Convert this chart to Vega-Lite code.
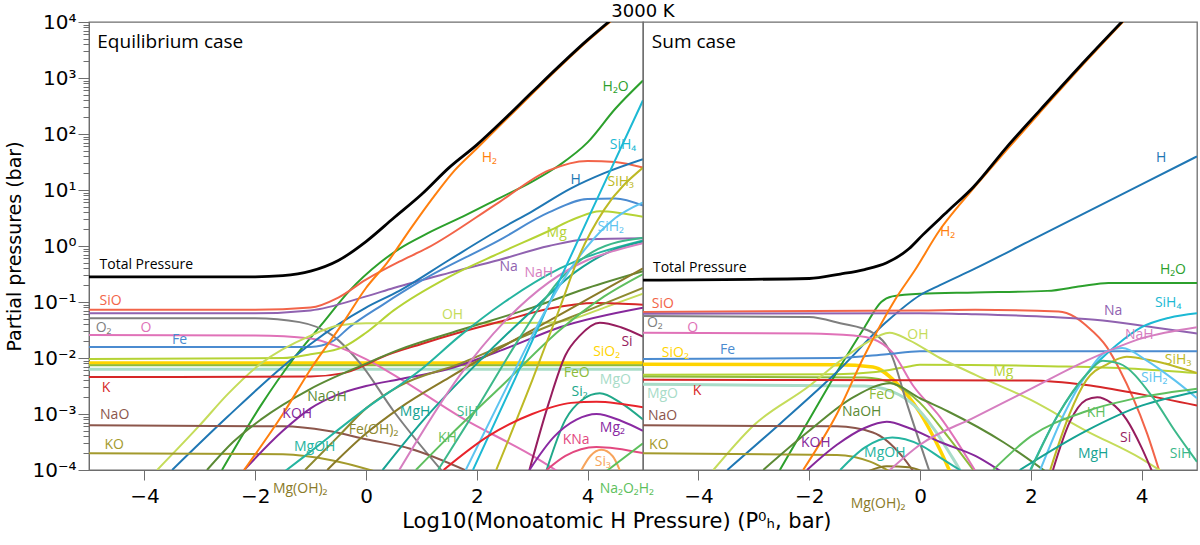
{
  "$schema": "https://vega.github.io/schema/vega-lite/v6.json",
  "padding": {"left": 5, "top": 3, "right": 3, "bottom": 0},
  "bounds": "flush",
  "config": {
    "view": {"stroke": "#6e6e6e", "strokeWidth": 1.3},
    "axis": {"domainColor": "#6e6e6e", "tickColor": "#6e6e6e", "labelColor": "#000", "titleColor": "#000", "grid": false}
  },
  "title": {"text": "Log10(Monoatomic H Pressure) (P⁰ₕ, bar)", "orient": "bottom", "anchor": "middle", "font": "DejaVu Sans", "fontSize": 21, "fontWeight": "normal", "color": "#000", "offset": 0, "dx": 15},
  "data": {"values": [
    {"p":"E","s":"SiO2","x":-5,"y":0.00813},{"p":"E","s":"SiO2","x":5,"y":0.00813},
    {"p":"E","s":"FeO","x":-5,"y":0.00741},{"p":"E","s":"FeO","x":5,"y":0.00741},
    {"p":"E","s":"MgO","x":-5,"y":0.00631},{"p":"E","s":"MgO","x":5,"y":0.00631},
    {"p":"E","s":"H2O","x":-2.6,"y":0.0001},{"p":"E","s":"H2O","x":-1.9,"y":0.00141},{"p":"E","s":"H2O","x":-1.3,"y":0.01},{"p":"E","s":"H2O","x":-0.8,"y":0.0398},{"p":"E","s":"H2O","x":-0.3,"y":0.158},{"p":"E","s":"H2O","x":0.25,"y":0.501},{"p":"E","s":"H2O","x":0.6,"y":0.891},{"p":"E","s":"H2O","x":1.1,"y":1.66},{"p":"E","s":"H2O","x":1.8,"y":3.55},{"p":"E","s":"H2O","x":2.4,"y":7.08},{"p":"E","s":"H2O","x":3,"y":14.1},{"p":"E","s":"H2O","x":3.5,"y":28.2},{"p":"E","s":"H2O","x":4,"y":70.8},{"p":"E","s":"H2O","x":4.5,"y":282},{"p":"E","s":"H2O","x":5,"y":900},
    {"p":"E","s":"SiO","x":-5,"y":0.0724},{"p":"E","s":"SiO","x":-2,"y":0.0724},{"p":"E","s":"SiO","x":-1,"y":0.0794},{"p":"E","s":"SiO","x":-0.5,"y":0.12},{"p":"E","s":"SiO","x":0,"y":0.251},{"p":"E","s":"SiO","x":0.6,"y":0.525},{"p":"E","s":"SiO","x":1.1,"y":0.912},{"p":"E","s":"SiO","x":2.4,"y":6.03},{"p":"E","s":"SiO","x":3.3,"y":22.4},{"p":"E","s":"SiO","x":4,"y":33.1},{"p":"E","s":"SiO","x":4.5,"y":31.6},{"p":"E","s":"SiO","x":5,"y":25.1},
    {"p":"E","s":"Na","x":-5,"y":0.0631},{"p":"E","s":"Na","x":-2,"y":0.0631},{"p":"E","s":"Na","x":-1,"y":0.0708},{"p":"E","s":"Na","x":0,"y":0.126},{"p":"E","s":"Na","x":0.5,"y":0.178},{"p":"E","s":"Na","x":1.5,"y":0.331},{"p":"E","s":"Na","x":2.4,"y":0.562},{"p":"E","s":"Na","x":3.3,"y":1.0},{"p":"E","s":"Na","x":4,"y":1.32},{"p":"E","s":"Na","x":5,"y":1.38},
    {"p":"E","s":"O2","x":-5,"y":0.0513},{"p":"E","s":"O2","x":-2,"y":0.0513},{"p":"E","s":"O2","x":-1.2,"y":0.0437},{"p":"E","s":"O2","x":-0.6,"y":0.0251},{"p":"E","s":"O2","x":-0.1,"y":0.00794},{"p":"E","s":"O2","x":0.5,"y":0.00112},{"p":"E","s":"O2","x":1.4,"y":0.000089},
    {"p":"E","s":"O","x":-5,"y":0.0257},{"p":"E","s":"O","x":-2,"y":0.0251},{"p":"E","s":"O","x":-1,"y":0.0224},{"p":"E","s":"O","x":-0.5,"y":0.0158},{"p":"E","s":"O","x":0,"y":0.00955},{"p":"E","s":"O","x":0.5,"y":0.00501},{"p":"E","s":"O","x":1.7,"y":0.000891},{"p":"E","s":"O","x":3.1,"y":0.000158},{"p":"E","s":"O","x":3.5,"y":0.000089},
    {"p":"E","s":"Fe","x":-5,"y":0.0158},{"p":"E","s":"Fe","x":-1,"y":0.0158},{"p":"E","s":"Fe","x":-0.6,"y":0.02},{"p":"E","s":"Fe","x":-0.3,"y":0.0355},{"p":"E","s":"Fe","x":0.3,"y":0.0891},{"p":"E","s":"Fe","x":1,"y":0.24},{"p":"E","s":"Fe","x":2.4,"y":1.26},{"p":"E","s":"Fe","x":3.3,"y":3.98},{"p":"E","s":"Fe","x":4,"y":6.92},{"p":"E","s":"Fe","x":4.5,"y":7.08},{"p":"E","s":"Fe","x":5,"y":5.25},
    {"p":"E","s":"H","x":-3.5,"y":0.0001},{"p":"E","s":"H","x":-2.5,"y":0.000891},{"p":"E","s":"H","x":-1.5,"y":0.00708},{"p":"E","s":"H","x":-1,"y":0.0178},{"p":"E","s":"H","x":-0.5,"y":0.0398},{"p":"E","s":"H","x":0,"y":0.0794},{"p":"E","s":"H","x":0.6,"y":0.158},{"p":"E","s":"H","x":1.5,"y":0.562},{"p":"E","s":"H","x":2.4,"y":1.95},{"p":"E","s":"H","x":3,"y":4.17},{"p":"E","s":"H","x":3.7,"y":10.7},{"p":"E","s":"H","x":4.3,"y":20},{"p":"E","s":"H","x":5,"y":35.5},
    {"p":"E","s":"Mg","x":-5,"y":0.00955},{"p":"E","s":"Mg","x":-1.5,"y":0.01},{"p":"E","s":"Mg","x":-1,"y":0.0117},{"p":"E","s":"Mg","x":-0.4,"y":0.0158},{"p":"E","s":"Mg","x":0,"y":0.0282},{"p":"E","s":"Mg","x":0.5,"y":0.0708},{"p":"E","s":"Mg","x":1.5,"y":0.282},{"p":"E","s":"Mg","x":2.4,"y":0.741},{"p":"E","s":"Mg","x":3.26,"y":1.78},{"p":"E","s":"Mg","x":3.8,"y":3.16},{"p":"E","s":"Mg","x":4.22,"y":4.17},{"p":"E","s":"Mg","x":5,"y":3.31},
    {"p":"E","s":"OH","x":-3.77,"y":0.0001},{"p":"E","s":"OH","x":-3,"y":0.000631},{"p":"E","s":"OH","x":-2.5,"y":0.00224},{"p":"E","s":"OH","x":-1.9,"y":0.00794},{"p":"E","s":"OH","x":-1,"y":0.0251},{"p":"E","s":"OH","x":-0.5,"y":0.038},{"p":"E","s":"OH","x":0,"y":0.0417},{"p":"E","s":"OH","x":2,"y":0.0417},{"p":"E","s":"OH","x":3.3,"y":0.0427},{"p":"E","s":"OH","x":3.8,"y":0.0525},{"p":"E","s":"OH","x":4.3,"y":0.0794},{"p":"E","s":"OH","x":5,"y":0.141},
    {"p":"E","s":"K","x":-5,"y":0.00457},{"p":"E","s":"K","x":-1,"y":0.00468},{"p":"E","s":"K","x":-0.4,"y":0.00537},{"p":"E","s":"K","x":0,"y":0.00759},{"p":"E","s":"K","x":0.25,"y":0.01},{"p":"E","s":"K","x":1,"y":0.0178},{"p":"E","s":"K","x":1.7,"y":0.0288},{"p":"E","s":"K","x":2.5,"y":0.0468},{"p":"E","s":"K","x":3.3,"y":0.0759},{"p":"E","s":"K","x":4.16,"y":0.0955},{"p":"E","s":"K","x":5,"y":0.0891},
    {"p":"E","s":"NaO","x":-5,"y":0.000631},{"p":"E","s":"NaO","x":-1.5,"y":0.000603},{"p":"E","s":"NaO","x":-0.7,"y":0.000501},{"p":"E","s":"NaO","x":0,"y":0.000355},{"p":"E","s":"NaO","x":0.8,"y":0.00024},{"p":"E","s":"NaO","x":1.9,"y":0.000089},
    {"p":"E","s":"KO","x":-5,"y":0.0002},{"p":"E","s":"KO","x":-1.5,"y":0.000191},{"p":"E","s":"KO","x":-0.6,"y":0.000148},{"p":"E","s":"KO","x":0.25,"y":0.000089},
    {"p":"E","s":"NaOH","x":-2.87,"y":0.0001},{"p":"E","s":"NaOH","x":-2.4,"y":0.000316},{"p":"E","s":"NaOH","x":-1.9,"y":0.000794},{"p":"E","s":"NaOH","x":-1,"y":0.00282},{"p":"E","s":"NaOH","x":0,"y":0.00794},{"p":"E","s":"NaOH","x":0.6,"y":0.0141},{"p":"E","s":"NaOH","x":1.7,"y":0.0316},{"p":"E","s":"NaOH","x":3,"y":0.0794},{"p":"E","s":"NaOH","x":4,"y":0.178},{"p":"E","s":"NaOH","x":5,"y":0.355},
    {"p":"E","s":"KOH","x":-2.2,"y":0.0001},{"p":"E","s":"KOH","x":-1.5,"y":0.000501},{"p":"E","s":"KOH","x":-1,"y":0.00126},{"p":"E","s":"KOH","x":-0.5,"y":0.00224},{"p":"E","s":"KOH","x":0,"y":0.00316},{"p":"E","s":"KOH","x":0.6,"y":0.00417},{"p":"E","s":"KOH","x":1.4,"y":0.00603},{"p":"E","s":"KOH","x":2.6,"y":0.0158},{"p":"E","s":"KOH","x":3.5,"y":0.0355},{"p":"E","s":"KOH","x":5,"y":0.0794},
    {"p":"E","s":"FeOH2","x":-1.1,"y":0.0001},{"p":"E","s":"FeOH2","x":-0.5,"y":0.000398},{"p":"E","s":"FeOH2","x":0,"y":0.00126},{"p":"E","s":"FeOH2","x":0.6,"y":0.00316},{"p":"E","s":"FeOH2","x":1.7,"y":0.00794},{"p":"E","s":"FeOH2","x":3,"y":0.0282},{"p":"E","s":"FeOH2","x":4,"y":0.0708},{"p":"E","s":"FeOH2","x":5,"y":0.178},
    {"p":"E","s":"MgOH","x":-1.5,"y":0.000089},{"p":"E","s":"MgOH","x":-1.13,"y":0.00017},{"p":"E","s":"MgOH","x":0,"y":0.00126},{"p":"E","s":"MgOH","x":1,"y":0.00631},{"p":"E","s":"MgOH","x":1.7,"y":0.0251},{"p":"E","s":"MgOH","x":2.5,"y":0.1},{"p":"E","s":"MgOH","x":3.5,"y":0.398},{"p":"E","s":"MgOH","x":5,"y":1.26},
    {"p":"E","s":"MgOH2","x":-0.7,"y":0.0001},{"p":"E","s":"MgOH2","x":0,"y":0.000447},{"p":"E","s":"MgOH2","x":0.6,"y":0.00126},{"p":"E","s":"MgOH2","x":1.5,"y":0.00447},{"p":"E","s":"MgOH2","x":3,"y":0.0316},{"p":"E","s":"MgOH2","x":4,"y":0.112},{"p":"E","s":"MgOH2","x":5,"y":0.398},
    {"p":"E","s":"MgH","x":0.3,"y":0.0001},{"p":"E","s":"MgH","x":1,"y":0.000708},{"p":"E","s":"MgH","x":2,"y":0.00794},{"p":"E","s":"MgH","x":3,"y":0.0708},{"p":"E","s":"MgH","x":3.8,"y":0.355},{"p":"E","s":"MgH","x":4.4,"y":0.794},{"p":"E","s":"MgH","x":5,"y":1.2},
    {"p":"E","s":"SiH","x":1.3,"y":0.0001},{"p":"E","s":"SiH","x":2,"y":0.00126},{"p":"E","s":"SiH","x":2.8,"y":0.0251},{"p":"E","s":"SiH","x":3.5,"y":0.251},{"p":"E","s":"SiH","x":4.1,"y":0.794},{"p":"E","s":"SiH","x":5,"y":1.41},
    {"p":"E","s":"KH","x":0.9,"y":0.0001},{"p":"E","s":"KH","x":1.5,"y":0.000398},{"p":"E","s":"KH","x":2.5,"y":0.00355},{"p":"E","s":"KH","x":3.5,"y":0.0316},{"p":"E","s":"KH","x":4.3,"y":0.126},{"p":"E","s":"KH","x":5,"y":0.316},
    {"p":"E","s":"NaH","x":0.6,"y":0.0001},{"p":"E","s":"NaH","x":1.7,"y":0.00501},{"p":"E","s":"NaH","x":2.5,"y":0.0447},{"p":"E","s":"NaH","x":3.3,"y":0.224},{"p":"E","s":"NaH","x":4,"y":0.562},{"p":"E","s":"NaH","x":4.5,"y":0.832},{"p":"E","s":"NaH","x":5,"y":1.12},
    {"p":"E","s":"SiH4","x":1.93,"y":0.0001},{"p":"E","s":"SiH4","x":2.7,"y":0.00447},{"p":"E","s":"SiH4","x":3.5,"y":0.251},{"p":"E","s":"SiH4","x":4.2,"y":7.94},{"p":"E","s":"SiH4","x":5,"y":400},
    {"p":"E","s":"SiH2","x":1.8,"y":0.0001},{"p":"E","s":"SiH2","x":2.5,"y":0.00251},{"p":"E","s":"SiH2","x":3,"y":0.0251},{"p":"E","s":"SiH2","x":3.5,"y":0.2},{"p":"E","s":"SiH2","x":4,"y":1.0},{"p":"E","s":"SiH2","x":4.5,"y":3.16},{"p":"E","s":"SiH2","x":5,"y":6.03},
    {"p":"E","s":"SiH3","x":2.35,"y":0.0001},{"p":"E","s":"SiH3","x":3,"y":0.00398},{"p":"E","s":"SiH3","x":3.5,"y":0.0794},{"p":"E","s":"SiH3","x":3.86,"y":0.708},{"p":"E","s":"SiH3","x":4.3,"y":4.47},{"p":"E","s":"SiH3","x":5,"y":25.1},
    {"p":"E","s":"Si","x":2.95,"y":0.0001},{"p":"E","s":"Si","x":3.3,"y":0.00158},{"p":"E","s":"Si","x":3.6,"y":0.0112},{"p":"E","s":"Si","x":3.86,"y":0.0251},{"p":"E","s":"Si","x":4.22,"y":0.0427},{"p":"E","s":"Si","x":4.6,"y":0.0355},{"p":"E","s":"Si","x":5,"y":0.024},
    {"p":"E","s":"Si2","x":3.26,"y":0.0001},{"p":"E","s":"Si2","x":3.6,"y":0.000794},{"p":"E","s":"Si2","x":3.9,"y":0.00178},{"p":"E","s":"Si2","x":4.22,"y":0.00234},{"p":"E","s":"Si2","x":4.6,"y":0.00158},{"p":"E","s":"Si2","x":5,"y":0.000794},
    {"p":"E","s":"Mg2","x":2.95,"y":0.0001},{"p":"E","s":"Mg2","x":3.4,"y":0.000398},{"p":"E","s":"Mg2","x":3.8,"y":0.000794},{"p":"E","s":"Mg2","x":4.16,"y":0.001},{"p":"E","s":"Mg2","x":4.6,"y":0.000759},{"p":"E","s":"Mg2","x":5,"y":0.000501},
    {"p":"E","s":"K2","x":1.4,"y":0.0001},{"p":"E","s":"K2","x":2.2,"y":0.000398},{"p":"E","s":"K2","x":3,"y":0.001},{"p":"E","s":"K2","x":3.7,"y":0.00158},{"p":"E","s":"K2","x":4.16,"y":0.00166},{"p":"E","s":"K2","x":5,"y":0.00132},
    {"p":"E","s":"KNa","x":3.26,"y":0.0001},{"p":"E","s":"KNa","x":3.6,"y":0.000178},{"p":"E","s":"KNa","x":4.16,"y":0.000257},{"p":"E","s":"KNa","x":5,"y":0.0002},
    {"p":"E","s":"Si3","x":3.86,"y":0.000089},{"p":"E","s":"Si3","x":4.05,"y":0.000178},{"p":"E","s":"Si3","x":4.25,"y":0.000229},{"p":"E","s":"Si3","x":4.45,"y":0.000178},{"p":"E","s":"Si3","x":4.6,"y":0.000089},
    {"p":"E","s":"Na2O2H2","x":4.3,"y":0.000089},{"p":"E","s":"Na2O2H2","x":5,"y":0.0003},
    {"p":"E","s":"H2","x":-2.2,"y":0.0001},{"p":"E","s":"H2","x":-1.5,"y":0.001},{"p":"E","s":"H2","x":-1,"y":0.00631},{"p":"E","s":"H2","x":-0.4,"y":0.0447},{"p":"E","s":"H2","x":0,"y":0.178},{"p":"E","s":"H2","x":0.38,"y":0.501},{"p":"E","s":"H2","x":0.8,"y":2.0},{"p":"E","s":"H2","x":1.2,"y":7.08},{"p":"E","s":"H2","x":1.6,"y":22.4},{"p":"E","s":"H2","x":2,"y":55},{"p":"E","s":"H2","x":2.5,"y":170},{"p":"E","s":"H2","x":3,"y":525},{"p":"E","s":"H2","x":4,"y":4570},{"p":"E","s":"H2","x":4.5,"y":12000},
    {"p":"E","s":"Total","x":-5,"y":0.282},{"p":"E","s":"Total","x":-2,"y":0.282},{"p":"E","s":"Total","x":-1.5,"y":0.295},{"p":"E","s":"Total","x":-1,"y":0.355},{"p":"E","s":"Total","x":-0.5,"y":0.55},{"p":"E","s":"Total","x":0,"y":1.2},{"p":"E","s":"Total","x":0.5,"y":3.16},{"p":"E","s":"Total","x":1,"y":8.3},{"p":"E","s":"Total","x":1.5,"y":25.1},{"p":"E","s":"Total","x":2,"y":64},{"p":"E","s":"Total","x":2.5,"y":185},{"p":"E","s":"Total","x":3,"y":562},{"p":"E","s":"Total","x":4,"y":4790},{"p":"E","s":"Total","x":4.5,"y":12600},

    {"p":"S","s":"SiO2","x":-5,"y":0.00776},{"p":"S","s":"SiO2","x":-1.5,"y":0.00759},{"p":"S","s":"SiO2","x":-0.85,"y":0.00692},{"p":"S","s":"SiO2","x":-0.42,"y":0.00355},{"p":"S","s":"SiO2","x":0,"y":0.00105},{"p":"S","s":"SiO2","x":0.36,"y":0.000229},{"p":"S","s":"SiO2","x":0.55,"y":0.000089},
    {"p":"S","s":"Mg","x":-5,"y":0.00501},{"p":"S","s":"Mg","x":-1.5,"y":0.00513},{"p":"S","s":"Mg","x":-0.8,"y":0.00562},{"p":"S","s":"Mg","x":-0.2,"y":0.00708},{"p":"S","s":"Mg","x":0,"y":0.00759},{"p":"S","s":"Mg","x":2.5,"y":0.00708},{"p":"S","s":"Mg","x":4,"y":0.00631},{"p":"S","s":"Mg","x":5,"y":0.00537},
    {"p":"S","s":"FeO","x":-5,"y":0.00468},{"p":"S","s":"FeO","x":-1,"y":0.00447},{"p":"S","s":"FeO","x":-0.5,"y":0.00355},{"p":"S","s":"FeO","x":0,"y":0.00158},{"p":"S","s":"FeO","x":0.5,"y":0.000398},{"p":"S","s":"FeO","x":1,"y":0.000089},
    {"p":"S","s":"MgO","x":-5,"y":0.00339},{"p":"S","s":"MgO","x":-1,"y":0.00316},{"p":"S","s":"MgO","x":-0.5,"y":0.00251},{"p":"S","s":"MgO","x":-0.1,"y":0.00141},{"p":"S","s":"MgO","x":0.24,"y":0.000562},{"p":"S","s":"MgO","x":0.6,"y":0.000158},{"p":"S","s":"MgO","x":0.75,"y":0.000089},
    {"p":"S","s":"H2O","x":-2.53,"y":0.0001},{"p":"S","s":"H2O","x":-2,"y":0.000794},{"p":"S","s":"H2O","x":-1.5,"y":0.00562},{"p":"S","s":"H2O","x":-1,"y":0.0355},{"p":"S","s":"H2O","x":-0.7,"y":0.1},{"p":"S","s":"H2O","x":-0.5,"y":0.126},{"p":"S","s":"H2O","x":0,"y":0.141},{"p":"S","s":"H2O","x":1,"y":0.148},{"p":"S","s":"H2O","x":2.3,"y":0.158},{"p":"S","s":"H2O","x":2.9,"y":0.191},{"p":"S","s":"H2O","x":3.4,"y":0.219},{"p":"S","s":"H2O","x":5,"y":0.219},
    {"p":"S","s":"H","x":-3.48,"y":0.0001},{"p":"S","s":"H","x":-2.5,"y":0.000708},{"p":"S","s":"H","x":-1.5,"y":0.00562},{"p":"S","s":"H","x":-0.6,"y":0.0447},{"p":"S","s":"H","x":0,"y":0.132},{"p":"S","s":"H","x":0.36,"y":0.2},{"p":"S","s":"H","x":1,"y":0.398},{"p":"S","s":"H","x":2,"y":1.26},{"p":"S","s":"H","x":3,"y":3.98},{"p":"S","s":"H","x":4,"y":12.6},{"p":"S","s":"H","x":5,"y":39.8},
    {"p":"S","s":"SiO","x":-5,"y":0.0661},{"p":"S","s":"SiO","x":0,"y":0.0708},{"p":"S","s":"SiO","x":1,"y":0.0724},{"p":"S","s":"SiO","x":2.5,"y":0.0676},{"p":"S","s":"SiO","x":2.8,"y":0.0537},{"p":"S","s":"SiO","x":3,"y":0.038},{"p":"S","s":"SiO","x":3.37,"y":0.0158},{"p":"S","s":"SiO","x":3.6,"y":0.00631},{"p":"S","s":"SiO","x":3.84,"y":0.002},{"p":"S","s":"SiO","x":4.1,"y":0.000447},{"p":"S","s":"SiO","x":4.33,"y":0.000089},
    {"p":"S","s":"Na","x":-5,"y":0.0617},{"p":"S","s":"Na","x":0,"y":0.0631},{"p":"S","s":"Na","x":1,"y":0.0603},{"p":"S","s":"Na","x":2.4,"y":0.0537},{"p":"S","s":"Na","x":3.3,"y":0.0468},{"p":"S","s":"Na","x":4.2,"y":0.0355},{"p":"S","s":"Na","x":5,"y":0.0275},
    {"p":"S","s":"O2","x":-5,"y":0.0562},{"p":"S","s":"O2","x":-2,"y":0.0537},{"p":"S","s":"O2","x":-1.44,"y":0.0417},{"p":"S","s":"O2","x":-0.85,"y":0.0282},{"p":"S","s":"O2","x":-0.5,"y":0.0105},{"p":"S","s":"O2","x":-0.24,"y":0.00158},{"p":"S","s":"O2","x":0.18,"y":0.000089},
    {"p":"S","s":"O","x":-5,"y":0.0282},{"p":"S","s":"O","x":-2,"y":0.0275},{"p":"S","s":"O","x":-1.2,"y":0.0251},{"p":"S","s":"O","x":-0.85,"y":0.0219},{"p":"S","s":"O","x":-0.49,"y":0.0123},{"p":"S","s":"O","x":-0.12,"y":0.00316},{"p":"S","s":"O","x":0.36,"y":0.000891},{"p":"S","s":"O","x":1.02,"y":0.000089},
    {"p":"S","s":"Fe","x":-5,"y":0.00955},{"p":"S","s":"Fe","x":-1.5,"y":0.01},{"p":"S","s":"Fe","x":-0.6,"y":0.0117},{"p":"S","s":"Fe","x":0,"y":0.0132},{"p":"S","s":"Fe","x":2.5,"y":0.0132},{"p":"S","s":"Fe","x":5,"y":0.0132},
    {"p":"S","s":"OH","x":-3.73,"y":0.0001},{"p":"S","s":"OH","x":-3,"y":0.000631},{"p":"S","s":"OH","x":-2,"y":0.00316},{"p":"S","s":"OH","x":-1.44,"y":0.00891},{"p":"S","s":"OH","x":-1,"y":0.0178},{"p":"S","s":"OH","x":-0.55,"y":0.0282},{"p":"S","s":"OH","x":-0.2,"y":0.0209},{"p":"S","s":"OH","x":0.36,"y":0.01},{"p":"S","s":"OH","x":1,"y":0.00501},{"p":"S","s":"OH","x":2,"y":0.00178},{"p":"S","s":"OH","x":3,"y":0.000501},{"p":"S","s":"OH","x":4,"y":0.000158},{"p":"S","s":"OH","x":4.4,"y":0.000089},
    {"p":"S","s":"K","x":-5,"y":0.00407},{"p":"S","s":"K","x":2,"y":0.00398},{"p":"S","s":"K","x":3,"y":0.00331},{"p":"S","s":"K","x":4,"y":0.00224},{"p":"S","s":"K","x":5,"y":0.00141},
    {"p":"S","s":"NaO","x":-5,"y":0.000631},{"p":"S","s":"NaO","x":-1.5,"y":0.000603},{"p":"S","s":"NaO","x":-0.85,"y":0.000468},{"p":"S","s":"NaO","x":-0.31,"y":0.00017},{"p":"S","s":"NaO","x":-0.1,"y":0.000089},
    {"p":"S","s":"KO","x":-5,"y":0.0002},{"p":"S","s":"KO","x":-1.5,"y":0.000186},{"p":"S","s":"KO","x":-0.9,"y":0.000141},{"p":"S","s":"KO","x":-0.5,"y":0.000089},
    {"p":"S","s":"NaOH","x":-2.83,"y":0.0001},{"p":"S","s":"NaOH","x":-2,"y":0.000501},{"p":"S","s":"NaOH","x":-1.2,"y":0.002},{"p":"S","s":"NaOH","x":-0.54,"y":0.00355},{"p":"S","s":"NaOH","x":0,"y":0.00191},{"p":"S","s":"NaOH","x":0.5,"y":0.00112},{"p":"S","s":"NaOH","x":1.5,"y":0.000316},{"p":"S","s":"NaOH","x":2.3,"y":0.000089},
    {"p":"S","s":"KOH","x":-2.04,"y":0.0001},{"p":"S","s":"KOH","x":-1.5,"y":0.000282},{"p":"S","s":"KOH","x":-1,"y":0.000562},{"p":"S","s":"KOH","x":-0.6,"y":0.000724},{"p":"S","s":"KOH","x":-0.2,"y":0.000562},{"p":"S","s":"KOH","x":0.36,"y":0.000316},{"p":"S","s":"KOH","x":1,"y":0.000178},{"p":"S","s":"KOH","x":1.5,"y":0.000089},
    {"p":"S","s":"MgOH","x":-1.44,"y":0.0001},{"p":"S","s":"MgOH","x":-1,"y":0.000251},{"p":"S","s":"MgOH","x":-0.5,"y":0.00038},{"p":"S","s":"MgOH","x":0,"y":0.000282},{"p":"S","s":"MgOH","x":0.4,"y":0.000158},{"p":"S","s":"MgOH","x":0.8,"y":0.000089},
    {"p":"S","s":"MgOH2","x":-1,"y":0.000089},{"p":"S","s":"MgOH2","x":-0.6,"y":0.000117},{"p":"S","s":"MgOH2","x":-0.2,"y":0.000112},{"p":"S","s":"MgOH2","x":0.1,"y":0.000089},
    {"p":"S","s":"SiH4","x":1.99,"y":0.0001},{"p":"S","s":"SiH4","x":2.5,"y":0.001},{"p":"S","s":"SiH4","x":3,"y":0.00501},{"p":"S","s":"SiH4","x":3.55,"y":0.017},{"p":"S","s":"SiH4","x":4,"y":0.0355},{"p":"S","s":"SiH4","x":4.5,"y":0.0525},{"p":"S","s":"SiH4","x":5,"y":0.0631},
    {"p":"S","s":"SiH3","x":2.35,"y":0.0001},{"p":"S","s":"SiH3","x":2.7,"y":0.001},{"p":"S","s":"SiH3","x":3,"y":0.00398},{"p":"S","s":"SiH3","x":3.4,"y":0.00794},{"p":"S","s":"SiH3","x":3.73,"y":0.0105},{"p":"S","s":"SiH3","x":4.2,"y":0.00891},{"p":"S","s":"SiH3","x":5,"y":0.00537},
    {"p":"S","s":"SiH2","x":2.17,"y":0.0001},{"p":"S","s":"SiH2","x":2.6,"y":0.001},{"p":"S","s":"SiH2","x":3,"y":0.00501},{"p":"S","s":"SiH2","x":3.37,"y":0.0132},{"p":"S","s":"SiH2","x":3.65,"y":0.0151},{"p":"S","s":"SiH2","x":4.1,"y":0.00891},{"p":"S","s":"SiH2","x":4.6,"y":0.00398},{"p":"S","s":"SiH2","x":5,"y":0.00191},
    {"p":"S","s":"Si","x":2.4,"y":0.0001},{"p":"S","s":"Si","x":2.7,"y":0.000708},{"p":"S","s":"Si","x":3,"y":0.00178},{"p":"S","s":"Si","x":3.2,"y":0.002},{"p":"S","s":"Si","x":3.45,"y":0.00158},{"p":"S","s":"Si","x":3.73,"y":0.000794},{"p":"S","s":"Si","x":4,"y":0.000251},{"p":"S","s":"Si","x":4.2,"y":0.000089},
    {"p":"S","s":"NaH","x":-0.6,"y":0.000089},{"p":"S","s":"NaH","x":0,"y":0.000282},{"p":"S","s":"NaH","x":1,"y":0.000891},{"p":"S","s":"NaH","x":2,"y":0.00282},{"p":"S","s":"NaH","x":3,"y":0.00891},{"p":"S","s":"NaH","x":4,"y":0.0224},{"p":"S","s":"NaH","x":5,"y":0.0355},
    {"p":"S","s":"KH","x":1.32,"y":0.0001},{"p":"S","s":"KH","x":2,"y":0.000398},{"p":"S","s":"KH","x":3,"y":0.00112},{"p":"S","s":"KH","x":4,"y":0.002},{"p":"S","s":"KH","x":5,"y":0.00282},
    {"p":"S","s":"MgH","x":1.8,"y":0.0001},{"p":"S","s":"MgH","x":3,"y":0.000501},{"p":"S","s":"MgH","x":4,"y":0.00141},{"p":"S","s":"MgH","x":5,"y":0.00251},
    {"p":"S","s":"SiH","x":2,"y":0.0001},{"p":"S","s":"SiH","x":2.5,"y":0.001},{"p":"S","s":"SiH","x":3,"y":0.00501},{"p":"S","s":"SiH","x":3.3,"y":0.00891},{"p":"S","s":"SiH","x":3.6,"y":0.00794},{"p":"S","s":"SiH","x":4.2,"y":0.002},{"p":"S","s":"SiH","x":4.6,"y":0.000501},{"p":"S","s":"SiH","x":5,"y":0.00014},
    {"p":"S","s":"H2","x":-2.11,"y":0.0001},{"p":"S","s":"H2","x":-1.5,"y":0.001},{"p":"S","s":"H2","x":-1,"y":0.0112},{"p":"S","s":"H2","x":-0.45,"y":0.11},{"p":"S","s":"H2","x":-0.09,"y":0.372},{"p":"S","s":"H2","x":0.36,"y":1.95},{"p":"S","s":"H2","x":0.7,"y":5.25},{"p":"S","s":"H2","x":1,"y":11.7},{"p":"S","s":"H2","x":1.57,"y":52.5},{"p":"S","s":"H2","x":2.17,"y":245},{"p":"S","s":"H2","x":3,"y":2000},{"p":"S","s":"H2","x":3.7,"y":11000},
    {"p":"S","s":"Total","x":-5,"y":0.245},{"p":"S","s":"Total","x":-2,"y":0.263},{"p":"S","s":"Total","x":-1.44,"y":0.316},{"p":"S","s":"Total","x":-1,"y":0.38},{"p":"S","s":"Total","x":-0.6,"y":0.501},{"p":"S","s":"Total","x":-0.2,"y":0.891},{"p":"S","s":"Total","x":0.05,"y":1.58},{"p":"S","s":"Total","x":0.5,"y":4.17},{"p":"S","s":"Total","x":0.96,"y":11.2},{"p":"S","s":"Total","x":1.57,"y":58.9},{"p":"S","s":"Total","x":2.17,"y":269},{"p":"S","s":"Total","x":3,"y":2140},{"p":"S","s":"Total","x":3.7,"y":11500},

    {"p":"E","s":"case","x":-4.85,"y":4400,"t":"Equilibrium case"},
    {"p":"E","s":"Total","x":-4.81,"y":0.46,"t":"Total Pressure"},
    {"p":"E","s":"SiO","x":-4.81,"y":0.105,"t":"SiO"},
    {"p":"E","s":"O2","x":-4.88,"y":0.035,"t":"O₂"},
    {"p":"E","s":"O","x":-4.07,"y":0.035,"t":"O"},
    {"p":"E","s":"Fe","x":-3.5,"y":0.021,"t":"Fe"},
    {"p":"E","s":"K","x":-4.77,"y":0.0029,"t":"K"},
    {"p":"E","s":"NaO","x":-4.8,"y":0.00095,"t":"NaO"},
    {"p":"E","s":"KO","x":-4.72,"y":0.00028,"t":"KO"},
    {"p":"E","s":"NaOH","x":-1.06,"y":0.002,"t":"NaOH"},
    {"p":"E","s":"KOH","x":-1.51,"y":0.001,"t":"KOH"},
    {"p":"E","s":"FeOH2","x":-0.31,"y":0.00051,"t":"Fe(OH)₂"},
    {"p":"E","s":"MgOH","x":-1.3,"y":0.00026,"t":"MgOH"},
    {"p":"E","s":"MgOH2","x":-1.68,"y":0.000045,"t":"Mg(OH)₂"},
    {"p":"E","s":"MgH","x":0.61,"y":0.0011,"t":"MgH"},
    {"p":"E","s":"SiH","x":1.64,"y":0.0011,"t":"SiH"},
    {"p":"E","s":"KH","x":1.3,"y":0.00037,"t":"KH"},
    {"p":"E","s":"H2","x":2.09,"y":37,"t":"H₂"},
    {"p":"E","s":"H2O","x":4.27,"y":690,"t":"H₂O"},
    {"p":"E","s":"SiH4","x":4.4,"y":63,"t":"SiH₄"},
    {"p":"E","s":"H","x":3.69,"y":15,"t":"H"},
    {"p":"E","s":"SiH3","x":4.36,"y":14,"t":"SiH₃"},
    {"p":"E","s":"SiH2","x":4.18,"y":2.2,"t":"SiH₂"},
    {"p":"E","s":"Mg","x":3.26,"y":1.7,"t":"Mg"},
    {"p":"E","s":"Na","x":2.41,"y":0.42,"t":"Na"},
    {"p":"E","s":"NaH","x":2.86,"y":0.33,"t":"NaH"},
    {"p":"E","s":"OH","x":1.37,"y":0.059,"t":"OH"},
    {"p":"E","s":"Si","x":4.61,"y":0.019,"t":"Si"},
    {"p":"E","s":"SiO2","x":4.1,"y":0.013,"t":"SiO₂"},
    {"p":"E","s":"FeO","x":3.57,"y":0.0054,"t":"FeO"},
    {"p":"E","s":"MgO","x":4.22,"y":0.0041,"t":"MgO"},
    {"p":"E","s":"Si2","x":3.71,"y":0.0025,"t":"Si₂"},
    {"p":"E","s":"Mg2","x":4.22,"y":0.00056,"t":"Mg₂"},
    {"p":"E","s":"KNa","x":3.55,"y":0.00035,"t":"KNa"},
    {"p":"E","s":"Si3","x":4.13,"y":0.00014,"t":"Si₃"},
    {"p":"E","s":"Na2O2H2","x":4.22,"y":0.000045,"t":"Na₂O₂H₂"},

    {"p":"S","s":"case","x":-4.84,"y":4400,"t":"Sum case"},
    {"p":"S","s":"Total","x":-4.82,"y":0.41,"t":"Total Pressure"},
    {"p":"S","s":"SiO","x":-4.84,"y":0.091,"t":"SiO"},
    {"p":"S","s":"O2","x":-4.93,"y":0.042,"t":"O₂"},
    {"p":"S","s":"O","x":-4.2,"y":0.035,"t":"O"},
    {"p":"S","s":"SiO2","x":-4.66,"y":0.0123,"t":"SiO₂"},
    {"p":"S","s":"Fe","x":-3.61,"y":0.0139,"t":"Fe"},
    {"p":"S","s":"MgO","x":-4.93,"y":0.0023,"t":"MgO"},
    {"p":"S","s":"K","x":-4.1,"y":0.0026,"t":"K"},
    {"p":"S","s":"NaO","x":-4.91,"y":0.00091,"t":"NaO"},
    {"p":"S","s":"KO","x":-4.89,"y":0.00028,"t":"KO"},
    {"p":"S","s":"FeO","x":-0.92,"y":0.0022,"t":"FeO"},
    {"p":"S","s":"NaOH","x":-1.41,"y":0.0011,"t":"NaOH"},
    {"p":"S","s":"OH","x":-0.23,"y":0.026,"t":"OH"},
    {"p":"S","s":"KOH","x":-2.15,"y":0.0003,"t":"KOH"},
    {"p":"S","s":"MgOH","x":-1.01,"y":0.0002,"t":"MgOH"},
    {"p":"S","s":"MgOH2","x":-1.25,"y":0.000025,"t":"Mg(OH)₂"},
    {"p":"S","s":"H2","x":0.36,"y":1.8,"t":"H₂"},
    {"p":"S","s":"H","x":4.26,"y":37,"t":"H"},
    {"p":"S","s":"H2O","x":4.33,"y":0.37,"t":"H₂O"},
    {"p":"S","s":"SiH4","x":4.24,"y":0.095,"t":"SiH₄"},
    {"p":"S","s":"Na","x":3.32,"y":0.069,"t":"Na"},
    {"p":"S","s":"NaH","x":3.7,"y":0.026,"t":"NaH"},
    {"p":"S","s":"Mg","x":1.32,"y":0.0056,"t":"Mg"},
    {"p":"S","s":"SiH3","x":4.42,"y":0.0091,"t":"SiH₃"},
    {"p":"S","s":"SiH2","x":3.99,"y":0.0044,"t":"SiH₂"},
    {"p":"S","s":"KH","x":3.01,"y":0.00105,"t":"KH"},
    {"p":"S","s":"Si","x":3.61,"y":0.00037,"t":"Si"},
    {"p":"S","s":"MgH","x":2.85,"y":0.00019,"t":"MgH"},
    {"p":"S","s":"SiH","x":4.51,"y":0.00019,"t":"SiH"}
  ]},
  "spacing": 0,
  "facet": {
    "column": {
      "field": "p", "type": "nominal", "title": "3000 K",
      "header": {"labels": false, "titleFont": "DejaVu Sans", "titleFontSize": 18, "titleFontWeight": "normal", "titleColor": "#000", "titlePadding": -9}
    }
  },
  "spec": {
    "width": 554,
    "height": 448,
    "encoding": {
      "x": {
        "field": "x", "type": "quantitative",
        "scale": {"domain": [-5, 5], "nice": false, "zero": false},
        "axis": {"title": null, "values": [-4, -2, 0, 2, 4], "tickSize": 10, "labelFont": "DejaVu Sans", "labelFontSize": 20, "labelPadding": 6, "labelFlush": false}
      },
      "y": {
        "field": "y", "type": "quantitative",
        "scale": {"type": "log", "domain": [0.0001, 10000]},
        "axis": {
          "title": "Partial pressures (bar)", "titleFont": "DejaVu Sans", "titleFontSize": 19, "titleFontWeight": "normal", "titlePadding": 7,
          "values": [0.0001,0.0002,0.0003,0.0004,0.0005,0.0006,0.0007,0.0008,0.0009,0.001,0.002,0.003,0.004,0.005,0.006,0.007,0.008,0.009,0.01,0.02,0.03,0.04,0.05,0.06,0.07,0.08,0.09,0.1,0.2,0.3,0.4,0.5,0.6,0.7,0.8,0.9,1,2,3,4,5,6,7,8,9,10,20,30,40,50,60,70,80,90,100,200,300,400,500,600,700,800,900,1000,2000,3000,4000,5000,6000,7000,8000,9000,10000],
          "labelExpr": "abs(log(datum.value)/LN10 - round(log(datum.value)/LN10)) < 0.001 ? ['10⁻⁴','10⁻³','10⁻²','10⁻¹','10⁰','10¹','10²','10³','10⁴'][round(log(datum.value)/LN10) + 4] : ''",
          "tickSize": {"condition": {"test": "abs(log(datum.value)/LN10 - round(log(datum.value)/LN10)) < 0.001", "value": 11}, "value": 6},
          "labelFont": "DejaVu Sans", "labelFontSize": 20, "labelPadding": 2, "labelOverlap": false, "labelFlush": false
        }
      }
    },
    "layer": [
      {
        "transform": [{"filter": "!isValid(datum.t)"}],
        "mark": {"type": "line", "clip": true, "interpolate": "monotone"},
        "encoding": {
          "color": {
            "field": "s", "type": "nominal", "legend": null,
            "scale": {
              "domain": ["Total","H2","H2O","SiO","H","Fe","Mg","Na","NaH","OH","SiH4","SiH3","SiH2","O2","O","K","NaO","KO","SiO2","FeO","MgO","NaOH","KOH","FeOH2","MgOH","MgOH2","MgH","SiH","KH","Si","Si2","Mg2","KNa","K2","Si3","Na2O2H2"],
              "range": ["#000000","#ff7f0e","#2ca02c","#f26449","#1f77b4","#4b8bd0","#b5d335","#9062b0","#d67ec0","#c5dc5a","#1cb9d4","#bdb925","#5ec4f0","#7f7f7f","#e072b8","#d62728","#8c564b","#a39a2c","#ffd400","#8dbb3a","#a8dcc8","#5b8a35","#86289b","#8d8a30","#25b4a0","#8a7a28","#16a393","#3cb88a","#5fbf5f","#961d5e","#21a88a","#8a2aa3","#e2487f","#e8232b","#f7a45c","#5cc05c"]
            }
          },
          "strokeWidth": {
            "condition": [
              {"test": "datum.s === 'Total'", "value": 2.8},
              {"test": "datum.s === 'SiO2'", "value": 3.5},
              {"test": "datum.s === 'MgO'", "value": 3}
            ],
            "value": 2
          }
        }
      },
      {
        "transform": [{"filter": "isValid(datum.t) && datum.s !== 'case'"}],
        "mark": {"type": "text", "align": "left", "baseline": "middle", "font": "Open Sans", "fontSize": 14},
        "encoding": {
          "text": {"field": "t", "type": "nominal"},
          "color": {"field": "s", "type": "nominal", "legend": null}
        }
      },
      {
        "transform": [{"filter": "datum.s === 'case'"}],
        "mark": {"type": "text", "align": "left", "baseline": "middle", "font": "Open Sans", "fontSize": 19, "color": "#000"},
        "encoding": {
          "text": {"field": "t", "type": "nominal"}
        }
      }
    ]
  }
}
